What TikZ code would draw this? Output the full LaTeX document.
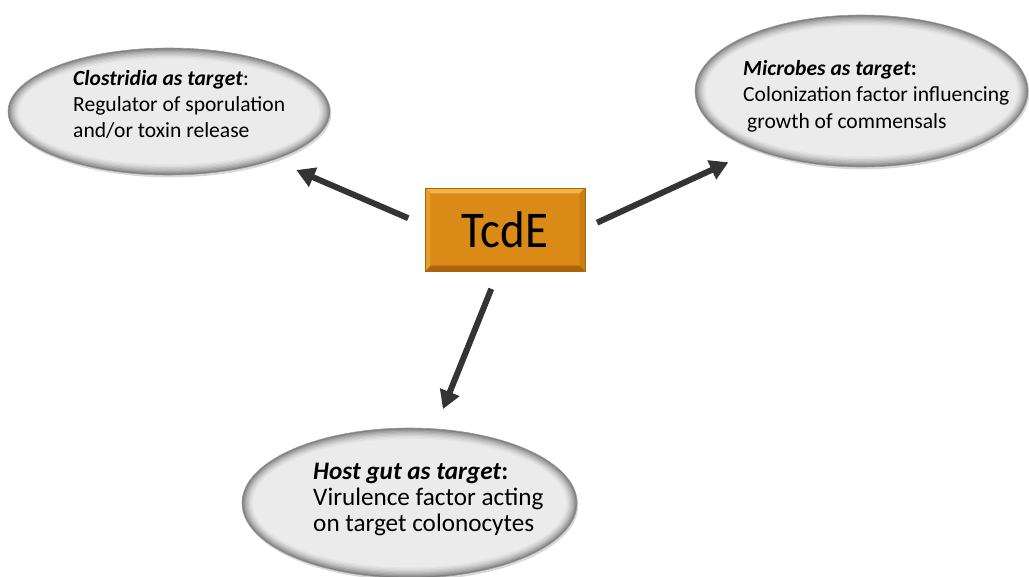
\documentclass[tikz,border=0pt]{standalone}
\usepackage{fontspec}
\setmainfont{Carlito}
\usetikzlibrary{arrows.meta,calc,shapes.geometric,shadows}

\definecolor{ellfill}{RGB}{235,235,235}
\definecolor{ellrim}{RGB}{125,125,125}
\definecolor{tcdorange}{RGB}{218,138,22}
\definecolor{tcdlight}{RGB}{242,180,72}
\definecolor{tcddark}{RGB}{172,100,10}
\definecolor{arrowgray}{RGB}{52,52,52}

\begin{document}
\begin{tikzpicture}[
  % light grey ellipse, the rim is built from shrinking rings
  target/.style={ellipse, fill=ellrim, draw=gray!80, line width=0.5pt, inner sep=0pt, drop shadow={shadow xshift=0.04cm, shadow yshift=-0.07cm, opacity=0.3},
    path picture={
      \foreach \s/\c in {1/78,2/62,3/48,4/35,5/24,6/14,7/6,8/0}
        \fill[ellrim!\c!ellfill] let \p1=(path picture bounding box.north east), \p2=(path picture bounding box.center) in
          (\p2) ellipse ({\x1-\x2-\s*0.04cm} and {\y1-\y2-\s*0.04cm});
    }},
  txt/.style={anchor=base west, align=left, inner sep=0pt, font=\fontsize{18.4}{22.3}\selectfont},
  tcdbox/.style={rectangle, fill=tcdorange, draw=tcddark, line width=0.4pt, minimum width=4.8cm, minimum height=2.49cm, inner sep=0pt, font=\fontsize{40}{40}\selectfont,
    path picture={
      \fill[tcdlight] (path picture bounding box.north west) -- (path picture bounding box.north east) -- ++(-0.16,-0.16) -- ([shift={(0.16,-0.16)}]path picture bounding box.north west) -- cycle;
      \fill[tcddark] (path picture bounding box.south west) -- (path picture bounding box.south east) -- ++(-0.16,0.16) -- ([shift={(0.16,0.16)}]path picture bounding box.south west) -- cycle;
      \fill[tcdorange!55!tcdlight] (path picture bounding box.north west) -- ([shift={(0.16,-0.16)}]path picture bounding box.north west) -- ([shift={(0.16,0.16)}]path picture bounding box.south west) -- (path picture bounding box.south west) -- cycle;
      \fill[tcdorange!65!tcddark] (path picture bounding box.north east) -- ([shift={(-0.16,-0.16)}]path picture bounding box.north east) -- ([shift={(-0.16,0.16)}]path picture bounding box.south east) -- (path picture bounding box.south east) -- cycle;
    }},
  arr/.style={-{Triangle[length=0.55cm, width=0.6cm]}, line width=0.18cm, draw=arrowgray, fill=arrowgray}
]
\useasboundingbox (0,0) rectangle (30.87,-17.28);

% Targets
\node[target, minimum width=9.66cm, minimum height=3.81cm] (clos) at (5.07,-3.345) {};
\node[target, minimum width=9.99cm, minimum height=4.56cm] (mic) at (25.845,-2.73) {};
\node[target, minimum width=10.05cm, minimum height=4.5cm] (host) at (12.285,-15.09) {};

% text sits on the baseline of its last line
\node[txt] (clostxt) at (2.19,-4.13) {\textbf{\textit{Clostridia as target}}:\\Regulator of sporulation\\and/or toxin release};
\node[txt] (mictxt) at (22.29,-3.84) {\textbf{\textit{Microbes as target}:}\\Colonization factor influencing\\\hspace*{0.12cm}growth of commensals};
\node[txt, font=\fontsize{21.5}{21.8}\selectfont] (hosttxt) at (9.39,-15.93) {\textbf{\textit{Host gut as target}:}\\Virulence factor acting\\on target colonocytes};

% Centre
\node[tcdbox] (tcde) at (15.15,-6.885) {\scalebox{1}[1.1]{TcdE}};

% Arrows
\draw[arr, shorten <=0.54cm, shorten >=0.75cm] (tcde.177) -- (clos.-25);
\draw[arr, shorten <=0.39cm, shorten >=0.89cm] (tcde.1) -- (mic.209);
\draw[arr, shorten <=0.57cm, shorten >=0.63cm] (tcde.261) -- (host.71);

\end{tikzpicture}
\end{document}
